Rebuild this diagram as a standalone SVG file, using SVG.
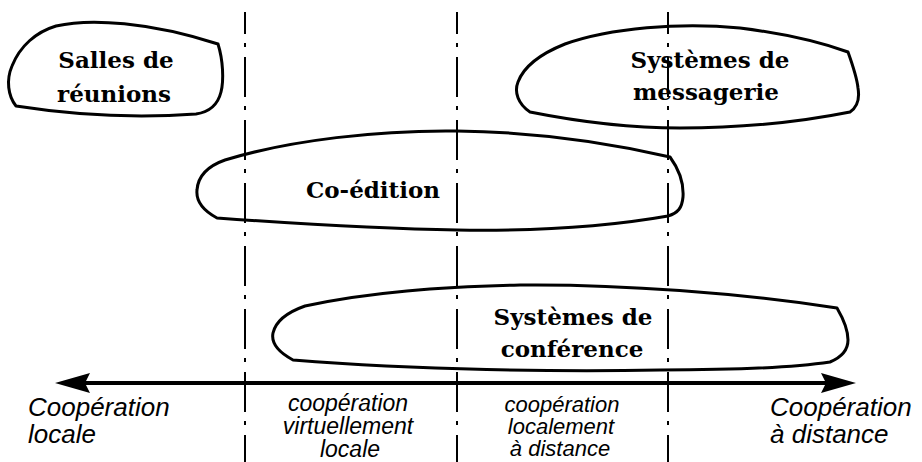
<svg xmlns="http://www.w3.org/2000/svg" width="922" height="462" viewBox="0 0 922 462">
  <style>
    .blob { fill: none; stroke: #000; stroke-width: 3; stroke-linejoin: round; }
    .title { font-family: "DejaVu Serif", "Liberation Serif", serif; font-weight: bold; font-size: 23px; fill: #000; text-anchor: middle; }
    .zone { font-family: "Liberation Sans", Arial, sans-serif; font-style: italic; fill: #000; }
    .divider { stroke: #000; stroke-width: 2; stroke-dasharray: 40 9 4 10; stroke-dashoffset: 18; fill: none; }
    .axis { stroke: #000; stroke-width: 4; fill: none; }
  </style>
  <rect width="922" height="462" fill="#fff"/>

  <!-- Application families -->
  <g id="salles-de-reunions">
    <path class="blob" d="M 16,106 C 8,96 6,80 12,66 C 20,46 36,32 56,26 C 90,18 150,22 218,44 C 223,60 224,80 221,92 C 218,104 210,112 196,114 C 140,118 80,116 16,106 Z"/>
    <text class="title" x="116" y="68">Salles de</text>
    <text class="title" x="114" y="102">réunions</text>
  </g>

  <g id="systemes-de-messagerie">
    <path class="blob" d="M 530,112 C 518,104 514,92 518,82 C 524,66 540,54 565,44 C 610,28 680,22 740,28 C 780,33 820,42 848,52 C 853,66 857,78 858,88 C 860,100 856,108 850,112 C 800,122 740,128 680,128 C 620,128 570,120 530,112 Z"/>
    <text class="title" x="710" y="68">Systèmes de</text>
    <text class="title" x="706" y="100">messagerie</text>
  </g>

  <g id="co-edition">
    <path class="blob" d="M 217,218 C 202,210 196,200 197,190 C 198,176 208,166 225,160 C 290,140 380,130 457,131 C 540,132 610,143 670,157 C 678,168 684,182 683,197 C 682,208 678,213 668,216 C 600,228 520,231 457,230 C 380,229 300,224 217,218 Z"/>
    <text class="title" x="373" y="198">Co-édition</text>
  </g>

  <g id="systemes-de-conference">
    <path class="blob" d="M 293,360 C 278,352 271,343 273,333 C 276,320 288,312 305,306 C 370,292 440,287 520,285 C 620,284 740,293 837,308 C 844,320 848,330 848,340 C 848,350 842,357 830,362 C 790,368 730,370 660,370 C 560,372 420,370 293,360 Z"/>
    <text class="title" x="573" y="325">Systèmes de</text>
    <text class="title" x="572" y="357">conférence</text>
  </g>

  <!-- Zone boundaries and cooperation axis -->
  <g id="connectors">
    <line class="divider" x1="245" y1="12" x2="245" y2="462"/>
    <line class="divider" x1="457" y1="12" x2="457" y2="462"/>
    <line class="divider" x1="668" y1="12" x2="668" y2="462"/>
    <line class="axis" x1="80" y1="383" x2="830" y2="383"/>
    <polygon points="55,383 90,373 85,383 90,393" fill="#000"/>
    <polygon points="856,383 821,373 826,383 821,393" fill="#000"/>
  </g>

  <!-- Zone labels -->
  <g id="zone-locale">
    <text class="zone" x="28" y="416" font-size="26">Coopération</text>
    <text class="zone" x="28" y="443" font-size="26">locale</text>
  </g>
  <g id="zone-virtuellement-locale" text-anchor="middle">
    <text class="zone" x="348" y="411" font-size="23">coopération</text>
    <text class="zone" x="348" y="434" font-size="23">virtuellement</text>
    <text class="zone" x="350" y="457" font-size="23">locale</text>
  </g>
  <g id="zone-localement-a-distance" text-anchor="middle">
    <text class="zone" x="562" y="412" font-size="22">coopération</text>
    <text class="zone" x="561" y="434" font-size="22">localement</text>
    <text class="zone" x="560" y="456" font-size="22">à distance</text>
  </g>
  <g id="zone-distance">
    <text class="zone" x="770" y="416" font-size="26">Coopération</text>
    <text class="zone" x="770" y="443" font-size="26">à distance</text>
  </g>
</svg>
